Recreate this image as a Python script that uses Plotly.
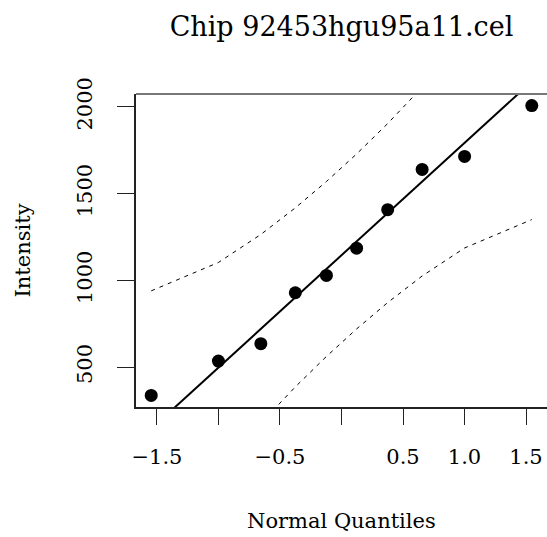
import numpy as np
import plotly.graph_objects as go
from statistics import NormalDist

# Sorted probe intensities for the chip
intensity = [337, 535, 635, 929, 1029, 1186, 1408, 1640, 1715, 2008]

title_text = "Chip 92453hgu95a11.cel"
x_label = "Normal Quantiles"
y_label = "Intensity"

x_tickvals = [-1.5, -1.0, -0.5, 0.0, 0.5, 1.0, 1.5]
x_ticktext = ["\u22121.5", "", "\u22120.5", "", "0.5", "1.0", "1.5"]
y_tickvals = [500, 1000, 1500, 2000]
y_ticktext = ["500", "1000", "1500", "2000"]

nd = NormalDist()
n = len(intensity)
y = np.array(sorted(intensity), dtype=float)

# Theoretical normal quantiles (Blom-type plotting positions, a = 3/8 for n <= 10)
a = 3 / 8 if n <= 10 else 0.5
p = (np.arange(1, n + 1) - a) / (n + 1 - 2 * a)
z = np.array([nd.inv_cdf(v) for v in p])

# Reference line through the quartiles
q1, q3 = np.quantile(y, [0.25, 0.75])
p1, p3 = nd.inv_cdf(0.25), nd.inv_cdf(0.75)
slope = (q3 - q1) / (p3 - p1)
icept = q1 - slope * p1

# Pointwise 95% confidence envelope
zz = nd.inv_cdf(0.975)
dens = np.array([nd.pdf(v) for v in z])
se = (slope / dens) * np.sqrt(p * (1 - p) / n)
fit = icept + slope * z
upper = fit + zz * se
lower = fit - zz * se

# Axis ranges with 4% padding
xr = z.max() - z.min()
xrange = [z.min() - 0.04 * xr, z.max() + 0.04 * xr]
yr = y.max() - y.min()
yrange = [y.min() - 0.04 * yr, y.max() + 0.04 * yr]

line_x = np.array([xrange[0] - 1, xrange[1] + 1])
line_y = icept + slope * line_x

FONT = "DejaVu Serif"
W, H = 547, 537
ML, MR, MT, MB = 136, 0, 94, 130
PW, PH = W - ML - MR, H - MT - MB

fig = go.Figure()
fig.add_trace(go.Scatter(x=z, y=upper, mode="lines",
                         line=dict(color="black", width=1, dash="4px,5px"),
                         hoverinfo="skip"))
fig.add_trace(go.Scatter(x=z, y=lower, mode="lines",
                         line=dict(color="black", width=1, dash="4px,5px"),
                         hoverinfo="skip"))
fig.add_trace(go.Scatter(x=line_x, y=line_y, mode="lines",
                         line=dict(color="black", width=2),
                         hoverinfo="skip"))
fig.add_trace(go.Scatter(x=z, y=y, mode="markers",
                         marker=dict(color="black", size=13)))

fig.update_layout(
    width=W, height=H,
    margin=dict(l=ML, r=MR, t=MT, b=MB),
    paper_bgcolor="white", plot_bgcolor="white",
    showlegend=False,
    font=dict(family=FONT, color="black", size=21),
    title=dict(text=title_text, x=0.5, xref="paper", xanchor="center",
               y=1 - 27 / H, yref="container", yanchor="middle",
               font=dict(family=FONT, size=27, color="black")),
    xaxis=dict(range=xrange, tickvals=x_tickvals, ticktext=x_ticktext,
               ticks="outside", ticklen=16, tickwidth=1, tickcolor="#222",
               showline=True, linecolor="#222", linewidth=2,
               showgrid=False, zeroline=False, ticklabelstandoff=14,
               tickfont=dict(family=FONT, size=21)),
    yaxis=dict(range=yrange, tickvals=y_tickvals, ticktext=y_ticktext,
               ticks="outside", ticklen=17, tickwidth=1, tickcolor="#222",
               tickangle=-90,
               showline=True, linecolor="#222", linewidth=2,
               showgrid=False, zeroline=False, ticklabelstandoff=17,
               tickfont=dict(family=FONT, size=21)),
    shapes=[dict(type="line", xref="paper", yref="paper", x0=0, x1=1.01,
                 y0=1, y1=1, line=dict(color="#777", width=2))],
    annotations=[
        dict(text=x_label, x=0.5, xref="paper",
             y=(H - 521 - MB) / PH, yref="paper",
             yanchor="middle", xanchor="center", showarrow=False,
             font=dict(family=FONT, size=21)),
        dict(text=y_label, x=(22 - ML) / PW, xref="paper",
             y=0.5, yref="paper", xanchor="center", yanchor="middle",
             textangle=-90, showarrow=False,
             font=dict(family=FONT, size=21)),
    ],
)

fig.write_html("out.html")
